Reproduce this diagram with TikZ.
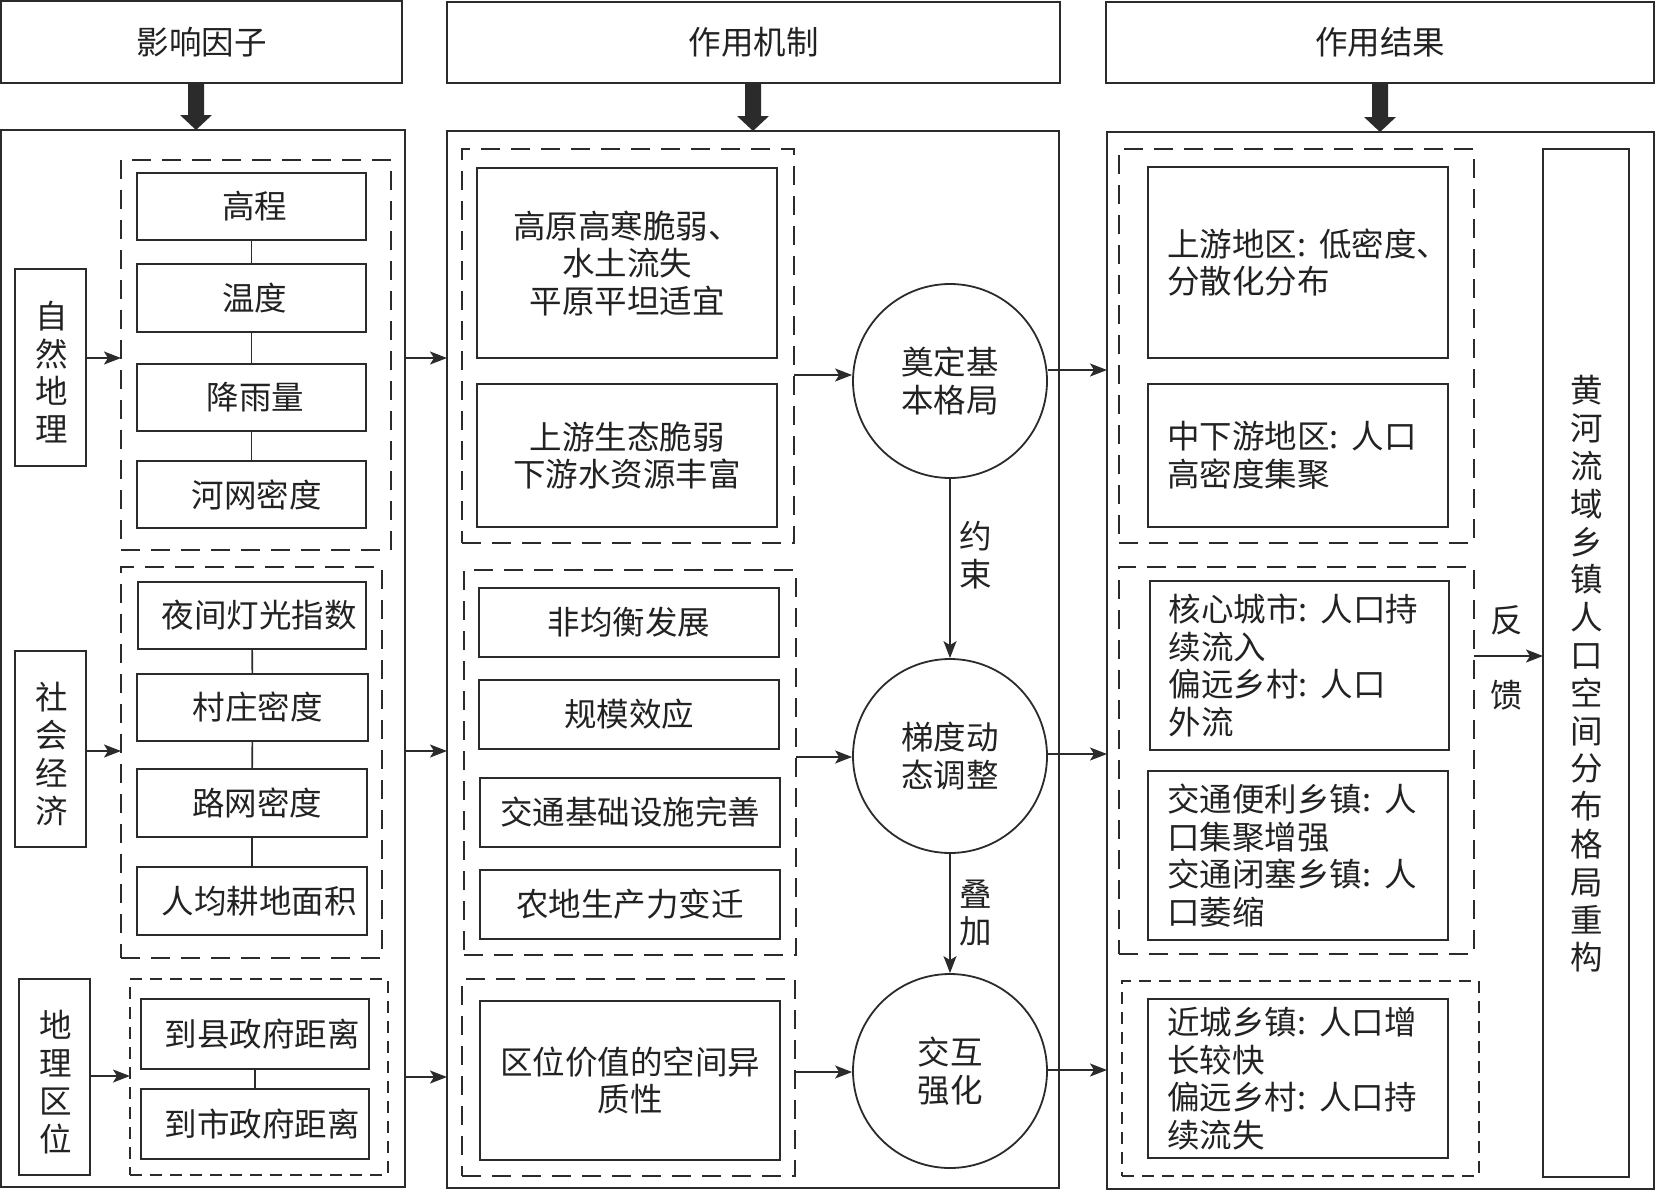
\documentclass[tikz,border=0pt]{standalone}
\usepackage{fontspec}
\setmainfont{Noto Sans CJK SC}
\usetikzlibrary{arrows.meta}
\definecolor{lc}{HTML}{2B2B2B}
\definecolor{tc}{HTML}{222222}
\newcommand{\fsz}{\fontsize{32.5pt}{37.5pt}\selectfont}
\newcommand{\cln}{:\kern0.4em\relax}
\newcommand{\tharrow}[3]{\fill[lc] ({#1-8},#2) -- ({#1+8},#2) -- ({#1+8},{#3-15}) -- ({#1+16},{#3-15}) -- (#1,#3) -- ({#1-16},{#3-15}) -- ({#1-8},{#3-15}) -- cycle;}
% \bx{style}{name}{x1}{y1}{x2}{y2}{text}
\newcommand{\bx}[7]{\node[#1, minimum width={(#5-#3)*1pt}, minimum height={(#6-#4)*1pt}] (#2) at ({(#3+#5)/2},{(#4+#6)/2}) {#7};}
\begin{document}
\begin{tikzpicture}[x=1pt,y=-1pt,
 box/.style={draw=lc, line width=1.8pt, inner sep=0pt, outer sep=0pt, text=tc, font=\fsz, align=center},
 lbox/.style={box, align=left, text width=262pt},
 panel/.style={draw=lc, line width=1.5pt, inner sep=0pt, outer sep=0pt},
 grp/.style={draw=lc, line width=1.7pt, inner sep=0pt, outer sep=0pt, dash pattern=on 19pt off 11pt},
 grps/.style={grp, dash pattern=on 12pt off 8pt},
 circ/.style={circle, draw=lc, line width=1.8pt, minimum size=194pt, inner sep=0pt, text=tc, font=\fsz, align=center},
 arr/.style={draw=lc, line width=1.6pt, -{Stealth[length=17pt,width=13pt,inset=4pt]}},
 ln/.style={draw=lc, line width=1.6pt},
 lbl/.style={text=tc, font=\fsz, align=center, inner sep=0pt},
 vlbl/.style={lbl, font=\fontsize{32.5pt}{37.8pt}\selectfont}]
\useasboundingbox (0,0) rectangle (1656,1191);
\fill[white] (0,0) rectangle (1656,1191);
% headers
\bx{box}{h1}{1}{1}{402}{83}{影响因子}
\bx{box}{h2}{447}{2}{1060}{83}{作用机制}
\bx{box}{h3}{1106}{2}{1654}{83}{作用结果}
\tharrow{196}{83}{130}
\tharrow{753}{83}{131}
\tharrow{1380}{83}{132}
% panels
\bx{panel}{p1}{1}{130}{405}{1187}{}
\bx{panel}{p2}{447}{131}{1059}{1188}{}
\bx{panel}{p3}{1107}{132}{1654}{1189}{}
% column 1
\bx{grp}{g11}{121}{160}{391}{550}{}
\bx{box}{b11}{137}{173}{366}{240}{\hspace*{6pt}高程}
\bx{box}{b12}{137}{264}{366}{332}{\hspace*{6pt}温度}
\bx{box}{b13}{137}{364}{366}{431}{\hspace*{8pt}降雨量}
\bx{box}{b14}{137}{461}{366}{528}{\hspace*{10pt}河网密度}
\draw[ln] (b11) -- (b12);
\draw[ln] (b12) -- (b13);
\draw[ln] (b13) -- (b14);
\bx{box}{nat}{15}{269}{86}{466}{}
\node[vlbl] (natt) at (52,372) {自\\然\\地\\理};
\draw[arr] (nat.east |- 0,358) -- (g11.west |- 0,358);

\bx{grp}{g12}{121}{567}{382}{958}{}
\bx{box}{b21}{138}{582}{366}{649}{\hspace*{14pt}夜间灯光指数}
\bx{box}{b22}{137}{674}{368}{741}{\hspace*{10pt}村庄密度}
\bx{box}{b23}{137}{769}{367}{837}{\hspace*{10pt}路网密度}
\bx{box}{b24}{137}{867}{367}{935}{\hspace*{14pt}人均耕地面积}
\draw[ln] (b21) -- (b22);
\draw[ln] (b22) -- (b23);
\draw[ln] (b23) -- (b24);
\bx{box}{soc}{15}{651}{86}{847}{}
\node[vlbl] (soct) at (52,754) {社\\会\\经\\济};
\draw[arr] (soc.east |- 0,751) -- (g12.west |- 0,751);

\bx{grps}{g13}{130}{979}{388}{1175}{}
\bx{box}{b31}{141}{999}{369}{1069}{\hspace*{14pt}到县政府距离}
\bx{box}{b32}{141}{1089}{369}{1159}{\hspace*{14pt}到市政府距离}
\draw[ln] (b31) -- (b32);
\bx{box}{geo}{19}{979}{90}{1175}{}
\node[vlbl] (geot) at (56,1082) {地\\理\\区\\位};
\draw[arr] (geo.east |- 0,1076) -- (g13.west |- 0,1076);

\draw[arr] (p1.east |- 0,358) -- (p2.west |- 0,358);
\draw[arr] (p1.east |- 0,751) -- (p2.west |- 0,751);
\draw[arr] (p1.east |- 0,1077) -- (p2.west |- 0,1077);
% column 2
\bx{grp}{g21}{462}{149}{794}{543}{}
\bx{box}{m1}{477}{168}{777}{358}{高原高寒脆弱、\\水土流失\\平原平坦适宜}
\bx{box}{m2}{477}{384}{777}{527}{上游生态脆弱\\下游水资源丰富}
\bx{grp}{g22}{464}{570}{796}{955}{}
\bx{box}{m3}{479}{588}{779}{657}{非均衡发展}
\bx{box}{m4}{479}{680}{779}{749}{规模效应}
\bx{box}{m5}{480}{778}{780}{847}{交通基础设施完善}
\bx{box}{m6}{480}{870}{780}{939}{农地生产力变迁}
\bx{grp}{g23}{462}{979}{795}{1176}{}
\bx{box}{m7}{480}{1001}{780}{1160}{区位价值的空间异\\质性}
\node[circ] (c1) at (950,381) {奠定基\\本格局};
\node[circ] (c2) at (950,756) {梯度动\\态调整};
\node[circ] (c3) at (950,1071) {交互\\强化};
\draw[arr] (g21.east |- 0,375) -- (c1.west |- 0,375);
\draw[arr] (g22.east |- 0,757) -- (c2.west |- 0,757);
\draw[arr] (g23.east |- 0,1072) -- (c3.west |- 0,1072);
\draw[arr] (c1) -- (c2);
\draw[arr] (c2) -- (c3);
\node[lbl] (lab1) at (976,555) {约\\束};
\node[lbl] (lab2) at (976,913) {叠\\加};
\draw[arr] (c1.east |- 0,370) -- (p3.west |- 0,370);
\draw[arr] (c2.east |- 0,754) -- (p3.west |- 0,754);
\draw[arr] (c3.east |- 0,1070) -- (p3.west |- 0,1070);
% column 3
\bx{grp}{g31}{1119}{149}{1474}{543}{}
\bx{lbox}{r1}{1148}{167}{1448}{358}{上游地区\cln{}低密度、\\分散化分布}
\bx{lbox}{r2}{1148}{384}{1448}{527}{中下游地区\cln{}人口\\高密度集聚}
\bx{grp}{g32}{1119}{567}{1474}{954}{}
\bx{lbox}{r3}{1150}{581}{1449}{750}{核心城市\cln{}人口持\\续流入\\偏远乡村\cln{}人口\\外流}
\bx{lbox}{r4}{1148}{771}{1448}{940}{交通便利乡镇\cln{}人\\口集聚增强\\交通闭塞乡镇\cln{}人\\口萎缩}
\bx{grps}{g33}{1122}{981}{1479}{1176}{}
\bx{lbox}{r5}{1148}{999}{1448}{1158}{近城乡镇\cln{}人口增\\长较快\\偏远乡村\cln{}人口持\\续流失}
\bx{box}{tall}{1543}{149}{1629}{1177}{}
\node[vlbl] (tallt) at (1587,674) {黄\\河\\流\\域\\乡\\镇\\人\\口\\空\\间\\分\\布\\格\\局\\重\\构};
\draw[arr] (g32.east |- 0,656) -- (tall.west |- 0,656);
\node[lbl] (fb1) at (1507,620) {反};
\node[lbl] (fb2) at (1507,695) {馈};
\end{tikzpicture}
\end{document}
